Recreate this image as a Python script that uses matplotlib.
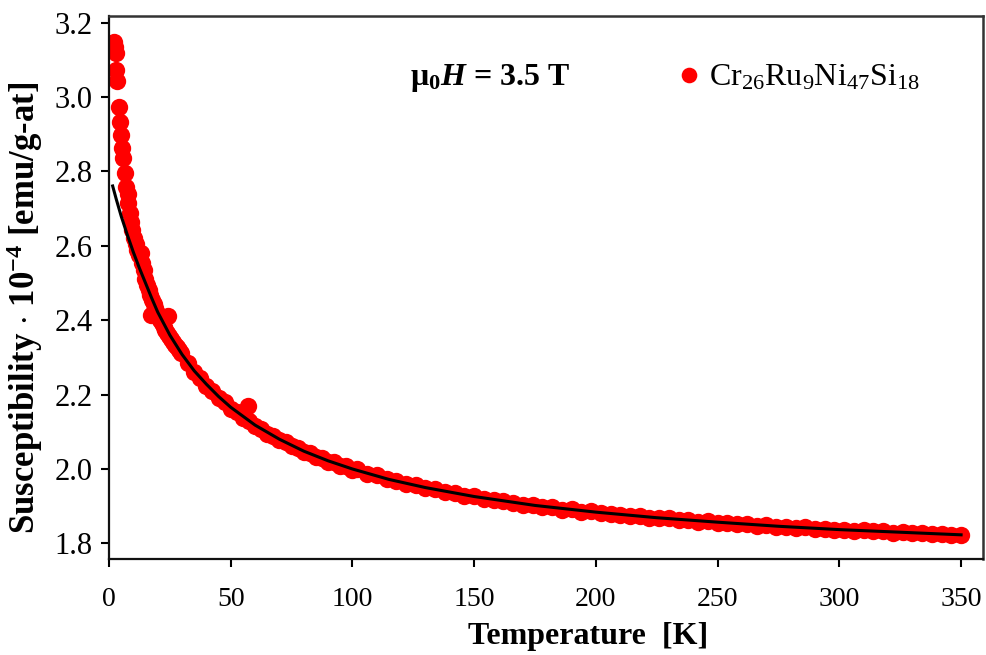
import numpy as np
import matplotlib
matplotlib.use("Agg")
import matplotlib.pyplot as plt

# susceptibility data (T in K, chi in 1e-4 emu/g-at)
temp_low = [2.2, 2.5, 2.7, 2.8, 3.1, 4.0, 4.4, 4.9, 5.2, 5.8, 6.4, 7.1, 7.6, 8.0,
            8.5, 9.0, 9.6, 10.3, 11.0, 11.7, 12.4, 13.2, 13.5, 14.2, 14.9, 15.6,
            16.3, 16.9, 17.4, 17.6, 18.3, 19.0, 19.7, 20.4, 21.1, 21.8, 22.5,
            23.2, 24.0, 24.3, 24.8, 25.6, 26.4, 27.2, 28.0, 28.8, 29.6]
chi_low = [3.149, 3.135, 3.118, 3.073, 3.044, 2.974, 2.934, 2.898, 2.862, 2.835,
           2.795, 2.759, 2.740, 2.715, 2.687, 2.665, 2.643, 2.622, 2.605, 2.590,
           2.575, 2.580, 2.553, 2.535, 2.512, 2.495, 2.480, 2.468, 2.414, 2.455,
           2.444, 2.432, 2.420, 2.410, 2.400, 2.392, 2.383, 2.375, 2.366, 2.412,
           2.358, 2.350, 2.342, 2.334, 2.327, 2.320, 2.313]

temp_mid = [32.5, 35, 37.5, 40, 42.5, 45, 47.5, 50, 52.5, 55, 57.1, 57.5, 60,
            62.5, 65, 67.5, 70, 72.5, 75, 77.5, 80, 82.5, 85, 87.5, 90, 92.5,
            95, 97.5, 100]
chi_mid = [2.286, 2.262, 2.246, 2.224, 2.211, 2.190, 2.181, 2.162, 2.154, 2.137,
           2.170, 2.130, 2.115, 2.108, 2.095, 2.090, 2.077, 2.073, 2.061, 2.057,
           2.046, 2.043, 2.032, 2.030, 2.020, 2.018, 2.008, 2.007, 1.998]

temp_high = [102, 106, 110, 114, 118, 122, 126, 130, 134, 138, 142, 146, 150,
             154, 158, 162, 166, 170, 174, 178, 182, 186, 190, 194, 198, 202,
             206, 210, 214, 218, 222, 226, 230, 234, 238, 242, 246, 250, 254,
             258, 262, 266, 270, 274, 278, 282, 286, 290, 294, 298, 302, 306,
             310, 314, 318, 322, 326, 330, 334, 338, 342, 346, 350]
chi_high = [1.999, 1.986, 1.983, 1.973, 1.968, 1.959, 1.957, 1.948, 1.945, 1.938,
            1.936, 1.928, 1.927, 1.920, 1.917, 1.914, 1.909, 1.904, 1.904, 1.898,
            1.897, 1.891, 1.892, 1.885, 1.886, 1.881, 1.879, 1.877, 1.874, 1.873,
            1.869, 1.867, 1.867, 1.862, 1.863, 1.858, 1.859, 1.854, 1.856, 1.852,
            1.851, 1.848, 1.849, 1.845, 1.845, 1.842, 1.843, 1.839, 1.840, 1.837,
            1.837, 1.834, 1.835, 1.832, 1.832, 1.829, 1.830, 1.827, 1.828, 1.825,
            1.826, 1.823, 1.823]

# fitted curve
fit_temp = [1.5, 3, 5, 7.5, 10, 12.5, 15, 17.5, 20, 25, 30, 35, 40, 45, 50, 60,
            70, 80, 90, 100, 115, 130, 150, 175, 200, 225, 250, 275, 300, 325, 350]
fit_chi = [2.761, 2.725, 2.680, 2.630, 2.583, 2.540, 2.500, 2.460, 2.422, 2.360,
           2.308, 2.264, 2.228, 2.195, 2.166, 2.118, 2.080, 2.048, 2.022, 2.000,
           1.972, 1.950, 1.926, 1.902, 1.884, 1.869, 1.857, 1.846, 1.837, 1.830,
           1.823]

temps = temp_low + temp_mid + temp_high
chis = chi_low + chi_mid + chi_high

plt.rcParams['font.family'] = ['Liberation Serif', 'DejaVu Serif']
plt.rcParams['mathtext.fontset'] = 'custom'
plt.rcParams['mathtext.rm'] = 'Liberation Serif'
plt.rcParams['mathtext.it'] = 'Liberation Serif:italic'
plt.rcParams['mathtext.bf'] = 'Liberation Serif:bold'
plt.rcParams['mathtext.bfit'] = 'Liberation Serif:bold:italic'

fig = plt.figure(figsize=(9.86, 6.55), dpi=100)
ax = fig.add_axes([109 / 986, 1 - 559 / 655, (983 - 109) / 986, (559 - 16) / 655])

ax.plot(temps, chis, 'o', color='#ff0000', markersize=12.5, markeredgewidth=0,
        label=r'Cr$_{26}$Ru$_9$Ni$_{47}$Si$_{18}$', zorder=2)
ax.plot(fit_temp, fit_chi, '-', color='black', linewidth=2.2, zorder=3)

ax.set_xlim(0, 359)
ax.set_ylim(1.758, 3.218)
ax.set_xticks([0, 50, 100, 150, 200, 250, 300, 350])
ax.set_yticks([1.8, 2.0, 2.2, 2.4, 2.6, 2.8, 3.0, 3.2])
ax.set_yticklabels(['1.8', '2.0', '2.2', '2.4', '2.6', '2.8', '3.0', '3.2'])
ax.tick_params(axis='both', direction='out', width=1.5, length=6,
               top=False, right=False)
ax.tick_params(axis='x', pad=14, labelsize=20)
ax.tick_params(axis='y', pad=6, labelsize=22)

for side in ['left', 'bottom']:
    ax.spines[side].set_linewidth(1.6)
    ax.spines[side].set_color('#111111')
for side in ['top', 'right']:
    ax.spines[side].set_linewidth(1.8)
    ax.spines[side].set_color('#333333')

ax.set_xlabel('Temperature  [K]', fontsize=23, fontweight='bold')
ax.xaxis.set_label_coords(0.548, -0.116)
ax.set_ylabel(r'Susceptibility $\cdot$ 10$^{\mathbf{-4}}$ [emu/g-at]',
              fontsize=25, fontweight='bold')
ax.yaxis.set_label_coords(-0.073, 0.462)

fig.text(410 / 986, 1 - 78 / 655, r'$\mathbf{\mu_0}\mathbfit{H}$ = 3.5 T',
         fontsize=23, fontweight='bold', ha='left', va='center')

ax.legend(loc='center left', bbox_to_anchor=(675 / 986, 1 - 78 / 655),
          bbox_transform=fig.transFigure, frameon=False, fontsize=23,
          handlelength=0.9, handletextpad=0.15, borderpad=0, borderaxespad=0,
          markerscale=0.9)

fig.savefig('out.png', dpi=100)
